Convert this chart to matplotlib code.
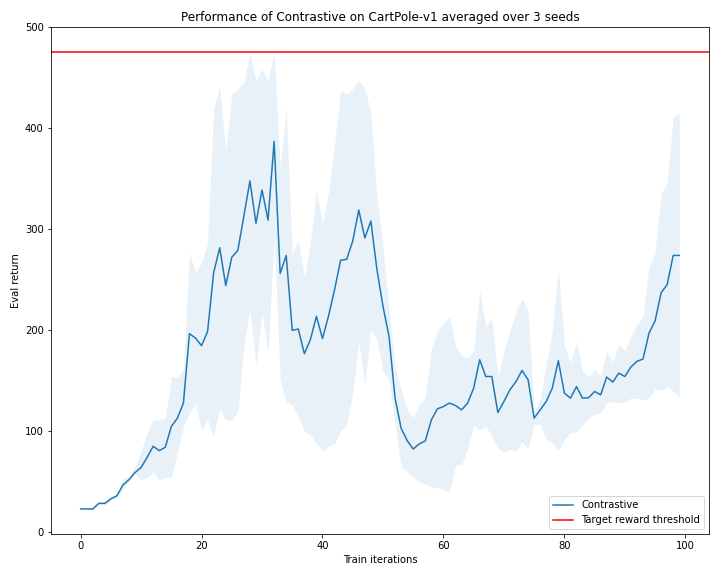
import matplotlib
matplotlib.use('Agg')
import matplotlib.pyplot as plt
import numpy as np

TARGET_REWARD = 475

# mean eval return per train iteration
mean_return = [23, 23, 23, 28.5, 28.5, 33, 36, 46.7, 52, 59,
               64, 74, 85, 80.7, 84, 104.5, 112.8, 127.7, 196.4, 192,
               184.5, 198.7, 256.6, 281.4, 244, 272, 278.8, 312.8, 347.5, 305.6,
               338.6, 308.8, 386.6, 256, 273.8, 199.7, 201, 176.6, 190.5, 213.6,
               191.5, 214, 240, 269, 270, 288, 318.8, 291, 307.8, 260,
               223.5, 193.8, 132.6, 102.9, 90.6, 82.3, 87.3, 90.3, 111, 122,
               124.3, 127.7, 125.3, 121, 127.7, 142.5, 170.6, 154, 154, 118.4,
               129.3, 140.9, 149, 160, 150.8, 112.8, 121, 129.3, 142.5, 169.6,
               137.6, 132.6, 144, 132.6, 133, 139.2, 135.9, 153.5, 148.5, 157.4,
               154, 163.4, 169, 171.3, 197, 209, 236.8, 245, 273.8, 273.8]

upper_return = [23, 23, 24, 29, 30, 35, 38, 53, 55, 65,
                80, 98, 111, 111, 113, 154, 153, 160.7, 275.8, 257,
                266.5, 286, 418.6, 441, 377, 433.5, 438.5, 445, 474, 446.7,
                458, 445.7, 476.5, 362, 420, 274.8, 288, 253, 286, 338.6,
                304.6, 336, 384, 436.8, 433.5, 438.5, 447.7, 438.5, 415.4, 332.6,
                283, 220, 164, 141, 121, 112.8, 126, 134, 180.5, 198.7,
                207, 213.6, 183.8, 175.6, 172.3, 180.5, 238.4, 203.7, 211, 154,
                178.9, 198.7, 218.6, 230.8, 218.6, 119, 131, 165.7, 198.7, 260,
                184.5, 167.3, 188.8, 159, 154, 161, 154, 178.9, 168, 185.5,
                179.9, 193.8, 205, 213.6, 262.6, 276.5, 335, 345, 410.4, 415.4]

lower_return = [23, 23, 22, 27, 27, 31, 34, 43, 50, 58,
                51.6, 54.3, 59.2, 51.6, 54.3, 54, 78, 104.5, 117.8, 127.7,
                101, 111, 94.6, 122.7, 111, 111, 119, 183.8, 220, 165.7,
                217, 177.6, 293, 150.8, 129.3, 126, 114.4, 99.5, 96.2, 88,
                80.7, 85.3, 88, 101, 106, 137.6, 188.8, 145.8, 200.4, 190.5,
                159, 150.8, 107.8, 64.8, 59.8, 54.9, 49.9, 47.6, 44.3, 44.3,
                41.7, 40.7, 66.5, 66.5, 83, 106, 101, 104.5, 96.2, 83,
                78.7, 82, 80.4, 89.6, 83, 106.8, 106.8, 92, 88, 80.7,
                92, 98.5, 99.5, 106, 112.8, 117, 118.4, 127.7, 129.3, 128.3,
                128.5, 132.6, 132.6, 131, 132.6, 142.5, 140.2, 144, 139.2, 134]

iterations = np.arange(len(mean_return))

fig, ax = plt.subplots(figsize=(10, 8), dpi=72)
ax.plot(iterations, mean_return, color='C0', label='Contrastive')
ax.fill_between(iterations, lower_return, upper_return, color='C0', alpha=0.1,
                linewidth=0)
ax.axhline(TARGET_REWARD, color='r', label='Target reward threshold')

ax.set_ylim(-2, 500)
ax.set_title('Performance of Contrastive on CartPole-v1 averaged over 3 seeds')
ax.set_xlabel('Train iterations')
ax.set_ylabel('Eval return')
ax.legend(loc='lower right')

plt.tight_layout()
fig.savefig('out.png')
